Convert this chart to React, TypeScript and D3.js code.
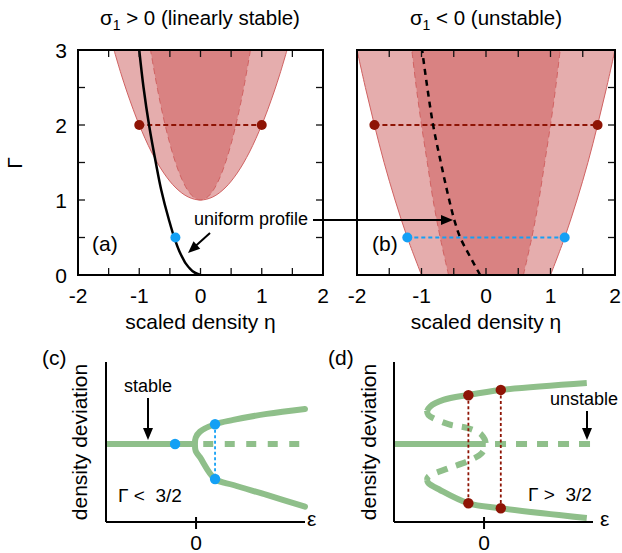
import React from 'react';
import * as d3 from 'd3';

// ---------- data ----------
const etaTickLabels = [-2, -1, 0, 1, 2];
const gammaTickLabels = [0, 1, 2, 3];
const etaMinorTicks = [-2, -1.5, -1, -0.5, 0, 0.5, 1, 1.5, 2];
const gammaMinorTicks = [0, 0.5, 1, 1.5, 2, 2.5, 3];

// panel (a): outer (binodal) and inner (spinodal) boundaries, eta -> Gamma
const outerAEta = [-1.42, -1.3, -1.2, -1.1, -1, -0.8, -0.6, -0.4, -0.2, 0, 0.2, 0.4, 0.6, 0.8, 1, 1.1, 1.2, 1.3, 1.42];
const outerAGamma = [3.02, 2.69, 2.44, 2.21, 2, 1.64, 1.36, 1.16, 1.04, 1, 1.04, 1.16, 1.36, 1.64, 2, 2.21, 2.44, 2.69, 3.02];
const innerAEta = [-0.82, -0.7, -0.6, -0.5, -0.4, -0.3, -0.2, -0.1, 0, 0.1, 0.2, 0.3, 0.4, 0.5, 0.6, 0.7, 0.82];
const innerAGamma = [3.02, 2.47, 2.08, 1.75, 1.48, 1.27, 1.12, 1.03, 1, 1.03, 1.12, 1.27, 1.48, 1.75, 2.08, 2.47, 3.02];
// uniform profile (a)
const uniAGamma = [0, 0.03, 0.11, 0.29, 0.48, 0.75, 1.13, 1.5, 2, 2.5, 3];
const uniAEta = [0, -0.09, -0.2, -0.33, -0.42, -0.52, -0.64, -0.73, -0.84, -0.93, -1.0];

// panel (b): half-widths vs Gamma
const gammaB = [0, 0.5, 1, 1.5, 2, 2.5, 3];
const outerB = [1.0, 1.22, 1.41, 1.58, 1.73, 1.87, 2.0];
const innerB = [0.58, 0.71, 0.82, 0.91, 1.0, 1.08, 1.15];
// uniform profile (b)
const uniBGamma = [0, 0.25, 0.5, 0.73, 1, 1.5, 2, 2.5, 3];
const uniBEta = [-0.09, -0.25, -0.4, -0.49, -0.57, -0.7, -0.82, -0.91, -0.99];

// markers
const redGamma = 2;
const redEtaA = [-1, 1];
const redEtaB = [-1.73, 1.73];
const blueGamma = 0.5;
const blueEtaA = [-0.41];
const blueEtaB = [-1.22, 1.22];

// panel (c): bifurcation branch [epsilon, deviation]
const branchC = [
  [1.21, 0.449], [0.786, 0.385], [0.414, 0.308], [0.211, 0.253], [0.044, 0.158], [-0.004, 0.08],
  [-0.012, 0.0], [-0.004, -0.09], [0.044, -0.171], [0.211, -0.449], [0.414, -0.526], [0.786, -0.654], [1.21, -0.804],
];
const flatSolidC = [-1, -0.011];
const flatDashedC = [0.08, 1.16];
const blueDotsC = [[-0.233, 0], [0.211, 0.253], [0.211, -0.449]];

// panel (d): subcritical branches [epsilon, deviation]
const upperSolidD = [[1.141, 0.781], [0.19, 0.692], [-0.174, 0.628], [-0.452, 0.564], [-0.6, 0.478], [-0.633, 0.423]];
const middleDashedD = [
  [-0.633, 0.423], [-0.619, 0.372], [-0.397, 0.253], [-0.174, 0.201], [-0.026, 0.115], [0.019, 0],
  [-0.026, -0.119], [-0.174, -0.218], [-0.397, -0.312], [-0.619, -0.419], [-0.633, -0.462],
];
const lowerSolidD = [[-0.633, -0.462], [-0.619, -0.5], [-0.489, -0.59], [-0.174, -0.76], [0.186, -0.824], [1.141, -0.949]];
const flatSolidD = [-1, 0.019];
const flatDashedD = [0.122, 1.2];
const redDotsD = [[-0.174, 0.624, -0.76], [0.186, 0.692, -0.824]];

// ---------- styles ----------
const FONT = "'Liberation Sans', Arial, Helvetica, sans-serif";
const LIGHT = '#e5adad';
const DARK = '#d98282';
const EDGE = '#d06262';
const REDDOT = '#8e1405';
const BLUE = '#14a0f5';
const GREEN = '#8fbf8a';

function Arrow({ x1, y1, x2, y2, head = 12, hw = 5, sw = 2 }) {
  const ang = Math.atan2(y2 - y1, x2 - x1);
  const bx = x2 - head * Math.cos(ang);
  const by = y2 - head * Math.sin(ang);
  const px = -Math.sin(ang) * hw;
  const py = Math.cos(ang) * hw;
  return (
    <g>
      <line x1={x1} y1={y1} x2={bx + Math.cos(ang)} y2={by + Math.sin(ang)} stroke="#000" strokeWidth={sw} />
      <polygon points={`${x2},${y2} ${bx + px},${by + py} ${bx - px},${by - py}`} fill="#000" />
    </g>
  );
}

function Frame({ x, y, showLeftTicks, showYLabels }) {
  const [x0, x1] = x.range();
  const [y0, y1] = y.range(); // y0 bottom, y1 top
  const tl = 7;
  return (
    <g>
      {etaMinorTicks.map((t) => (
        <g key={'xt' + t}>
          <line x1={x(t)} x2={x(t)} y1={y0} y2={y0 - tl} stroke="#111" strokeWidth={1.3} />
          <line x1={x(t)} x2={x(t)} y1={y1} y2={y1 + tl} stroke="#111" strokeWidth={1.3} />
        </g>
      ))}
      {gammaMinorTicks.map((t) => (
        <g key={'yt' + t}>
          {showLeftTicks && <line x1={x0} x2={x0 + tl} y1={y(t)} y2={y(t)} stroke="#111" strokeWidth={1.3} />}
          <line x1={x1} x2={x1 - tl} y1={y(t)} y2={y(t)} stroke="#111" strokeWidth={1.3} />
        </g>
      ))}
      <rect x={x0} y={y1} width={x1 - x0} height={y0 - y1} fill="none" stroke="#000" strokeWidth={2} />
      {etaTickLabels.map((t) => (
        <text key={'xl' + t} x={x(t)} y={303} textAnchor="middle" fontSize={21} fontFamily={FONT}>
          {t < 0 ? '-' + Math.abs(t) : t}
        </text>
      ))}
      {showYLabels &&
        gammaTickLabels.map((t) => (
          <text key={'yl' + t} x={67} y={y(t) + 7.5} textAnchor="end" fontSize={21} fontFamily={FONT}>
            {t}
          </text>
        ))}
      <text x={(x0 + x1) / 2} y={329} textAnchor="middle" fontSize={21} fontFamily={FONT}>
        scaled density η
      </text>
    </g>
  );
}

export default function App() {
  const yG = d3.scaleLinear().domain([0, 3]).range([275, 50]);
  const xA = d3.scaleLinear().domain([-2, 2]).range([78, 323]);
  const xB = d3.scaleLinear().domain([-2, 2]).range([357, 615]);

  // panel (a) shapes
  const outerAPts = outerAEta.map((e, i) => [e, outerAGamma[i]]);
  const innerAPts = innerAEta.map((e, i) => [e, innerAGamma[i]]);
  const areaA = d3
    .area()
    .x((d) => xA(d[0]))
    .y0(yG(3.3))
    .y1((d) => yG(d[1]))
    .curve(d3.curveCatmullRom);
  const lineA = d3
    .line()
    .x((d) => xA(d[0]))
    .y((d) => yG(d[1]))
    .curve(d3.curveCatmullRom);
  const uniALine = d3
    .line()
    .x((d) => xA(d[0]))
    .y((d) => yG(d[1]))
    .curve(d3.curveMonotoneY)(uniAEta.map((e, i) => [e, uniAGamma[i]]));

  // panel (b) shapes
  const outerBPts = gammaB.map((g, i) => [g, outerB[i]]);
  const innerBPts = gammaB.map((g, i) => [g, innerB[i]]);
  const areaB = d3
    .area()
    .y((d) => yG(d[0]))
    .x0((d) => xB(-d[1]))
    .x1((d) => xB(d[1]))
    .curve(d3.curveCatmullRom);
  const lineBL = d3
    .line()
    .x((d) => xB(-d[1]))
    .y((d) => yG(d[0]))
    .curve(d3.curveCatmullRom);
  const lineBR = d3
    .line()
    .x((d) => xB(d[1]))
    .y((d) => yG(d[0]))
    .curve(d3.curveCatmullRom);
  const uniBLine = d3
    .line()
    .x((d) => xB(d[0]))
    .y((d) => yG(d[1]))
    .curve(d3.curveMonotoneY)(uniBEta.map((e, i) => [e, uniBGamma[i]]));

  // bottom panels
  const yDev = d3.scaleLinear().domain([-1, 1.05]).range([522, 362]);
  const xC = d3.scaleLinear().domain([-1, 1.21]).range([106, 305]);
  const xD = d3.scaleLinear().domain([-1, 1.21]).range([394, 593]);
  const lineC = d3
    .line()
    .x((d) => xC(d[0]))
    .y((d) => yDev(d[1]))
    .curve(d3.curveCatmullRom);
  const lineD = d3
    .line()
    .x((d) => xD(d[0]))
    .y((d) => yDev(d[1]))
    .curve(d3.curveCatmullRom);

  return (
    <svg
      width={622}
      height={553}
      viewBox="0 0 622 553"
      style={{ position: 'absolute', left: 0, top: 0, background: '#fff' }}
      fontFamily={FONT}
    >
      <defs>
        <clipPath id="clipA">
          <rect x={78} y={50} width={245} height={225} />
        </clipPath>
        <clipPath id="clipB">
          <rect x={357} y={50} width={258} height={225} />
        </clipPath>
      </defs>
      <rect x={0} y={0} width={622} height={553} fill="#fff" />

      {/* titles */}
      <text x={200} y={25} textAnchor="middle" fontSize={20.5}>
        σ<tspan fontSize={14} dy={5}>1</tspan>
        <tspan dy={-5}> &gt; 0 (linearly stable)</tspan>
      </text>
      <text x={486} y={25} textAnchor="middle" fontSize={20.5}>
        σ<tspan fontSize={14} dy={5}>1</tspan>
        <tspan dy={-5}> &lt; 0 (unstable)</tspan>
      </text>
      <text transform="translate(22,163) rotate(-90)" textAnchor="middle" fontSize={21}>
        Γ
      </text>

      {/* panel (a) */}
      <g clipPath="url(#clipA)">
        <path d={areaA(outerAPts)} fill={LIGHT} />
        <path d={areaA(innerAPts)} fill={DARK} />
        <path d={lineA(outerAPts)} fill="none" stroke={EDGE} strokeWidth={1} />
        <path d={lineA(innerAPts)} fill="none" stroke={EDGE} strokeWidth={1} strokeDasharray="6,4" />
        <line
          x1={xA(redEtaA[0])}
          x2={xA(redEtaA[1])}
          y1={yG(redGamma)}
          y2={yG(redGamma)}
          stroke={REDDOT}
          strokeWidth={2}
          strokeDasharray="5,3"
        />
        <path d={uniALine} fill="none" stroke="#000" strokeWidth={2.5} />
        {redEtaA.map((e) => (
          <circle key={e} cx={xA(e)} cy={yG(redGamma)} r={5} fill={REDDOT} />
        ))}
        {blueEtaA.map((e) => (
          <circle key={e} cx={xA(e)} cy={yG(blueGamma)} r={5} fill={BLUE} />
        ))}
      </g>
      <Frame x={xA} y={yG} showLeftTicks={true} showYLabels={true} />
      <text x={92} y={251} fontSize={21}>(a)</text>

      {/* panel (b) */}
      <g clipPath="url(#clipB)">
        <path d={areaB(outerBPts)} fill={LIGHT} />
        <path d={areaB(innerBPts)} fill={DARK} />
        <path d={lineBL(outerBPts)} fill="none" stroke={EDGE} strokeWidth={1} />
        <path d={lineBR(outerBPts)} fill="none" stroke={EDGE} strokeWidth={1} />
        <path d={lineBL(innerBPts)} fill="none" stroke={EDGE} strokeWidth={1} strokeDasharray="6,4" />
        <path d={lineBR(innerBPts)} fill="none" stroke={EDGE} strokeWidth={1} strokeDasharray="6,4" />
        <line
          x1={xB(redEtaB[0])}
          x2={xB(redEtaB[1])}
          y1={yG(redGamma)}
          y2={yG(redGamma)}
          stroke={REDDOT}
          strokeWidth={2}
          strokeDasharray="5,3"
        />
        <line
          x1={xB(blueEtaB[0])}
          x2={xB(blueEtaB[1])}
          y1={yG(blueGamma)}
          y2={yG(blueGamma)}
          stroke={BLUE}
          strokeWidth={2}
          strokeDasharray="4,3"
        />
        <path d={uniBLine} fill="none" stroke="#000" strokeWidth={2.5} strokeDasharray="6,5" />
        {redEtaB.map((e) => (
          <circle key={e} cx={xB(e)} cy={yG(redGamma)} r={5} fill={REDDOT} />
        ))}
        {blueEtaB.map((e) => (
          <circle key={e} cx={xB(e)} cy={yG(blueGamma)} r={5} fill={BLUE} />
        ))}
      </g>
      <Frame x={xB} y={yG} showLeftTicks={false} showYLabels={false} />
      <text x={372} y={251} fontSize={21}>(b)</text>

      {/* uniform profile annotation */}
      <text x={194} y={225} fontSize={18}>uniform profile</text>
      <Arrow x1={210} y1={233} x2={188} y2={253} head={12} hw={5} />
      <Arrow x1={313} y1={220} x2={453} y2={220} head={12} hw={5} />

      {/* panel (c) */}
      <text x={42} y={365} fontSize={21}>(c)</text>
      <text transform="translate(87,442) rotate(-90)" textAnchor="middle" fontSize={21}>
        density deviation
      </text>
      <line x1={xC(flatSolidC[0])} x2={xC(flatSolidC[1])} y1={yDev(0)} y2={yDev(0)} stroke={GREEN} strokeWidth={6} />
      <line
        x1={xC(flatDashedC[0])}
        x2={xC(flatDashedC[1])}
        y1={yDev(0)}
        y2={yDev(0)}
        stroke={GREEN}
        strokeWidth={6}
        strokeDasharray="10,11.5"
      />
      <path d={lineC(branchC)} fill="none" stroke={GREEN} strokeWidth={6} strokeLinecap="round" />
      <line
        x1={xC(blueDotsC[1][0])}
        x2={xC(blueDotsC[2][0])}
        y1={yDev(blueDotsC[1][1])}
        y2={yDev(blueDotsC[2][1])}
        stroke={BLUE}
        strokeWidth={1.8}
        strokeDasharray="3,2.5"
      />
      {blueDotsC.map((d, i) => (
        <circle key={i} cx={xC(d[0])} cy={yDev(d[1])} r={5.2} fill={BLUE} />
      ))}
      <line x1={106} x2={106} y1={362} y2={522} stroke="#000" strokeWidth={2} />
      <line x1={106} x2={305} y1={522} y2={522} stroke="#000" strokeWidth={2} />
      <line x1={xC(0)} x2={xC(0)} y1={517} y2={529} stroke="#000" strokeWidth={2} />
      <text x={xC(0)} y={550} textAnchor="middle" fontSize={21}>0</text>
      <text x={307} y={526} fontSize={21}>ε</text>
      <text x={148} y={392} textAnchor="middle" fontSize={18}>stable</text>
      <Arrow x1={148} y1={398} x2={148} y2={440} head={12} hw={5} />
      <text x={118} y={502} fontSize={19} style={{ whiteSpace: 'pre' }}>
        {'Γ <  3/2'}
      </text>

      {/* panel (d) */}
      <text x={328} y={365} fontSize={21}>(d)</text>
      <text transform="translate(376,442) rotate(-90)" textAnchor="middle" fontSize={21}>
        density deviation
      </text>
      <line x1={xD(flatSolidD[0])} x2={xD(flatSolidD[1])} y1={yDev(0)} y2={yDev(0)} stroke={GREEN} strokeWidth={6} />
      <line
        x1={xD(flatDashedD[0])}
        x2={xD(flatDashedD[1])}
        y1={yDev(0)}
        y2={yDev(0)}
        stroke={GREEN}
        strokeWidth={6}
        strokeDasharray="11,10"
      />
      <path d={lineD(upperSolidD)} fill="none" stroke={GREEN} strokeWidth={6} />
      <path d={lineD(middleDashedD)} fill="none" stroke={GREEN} strokeWidth={6} strokeDasharray="11,9" />
      <path d={lineD(lowerSolidD)} fill="none" stroke={GREEN} strokeWidth={6} />
      {redDotsD.map((d, i) => (
        <g key={i}>
          <line
            x1={xD(d[0])}
            x2={xD(d[0])}
            y1={yDev(d[1])}
            y2={yDev(d[2])}
            stroke={REDDOT}
            strokeWidth={1.8}
            strokeDasharray="3,2.5"
          />
          <circle cx={xD(d[0])} cy={yDev(d[1])} r={5.2} fill={REDDOT} />
          <circle cx={xD(d[0])} cy={yDev(d[2])} r={5.2} fill={REDDOT} />
        </g>
      ))}
      <line x1={394} x2={394} y1={362} y2={522} stroke="#000" strokeWidth={2} />
      <line x1={394} x2={593} y1={522} y2={522} stroke="#000" strokeWidth={2} />
      <line x1={xD(0)} x2={xD(0)} y1={517} y2={529} stroke="#000" strokeWidth={2} />
      <text x={xD(0)} y={550} textAnchor="middle" fontSize={21}>0</text>
      <text x={600} y={526} fontSize={21}>ε</text>
      <text x={550} y={405} fontSize={18}>unstable</text>
      <Arrow x1={587} y1={411} x2={587} y2={440} head={12} hw={5} />
      <text x={528} y={501} fontSize={19} style={{ whiteSpace: 'pre' }}>
        {'Γ >  3/2'}
      </text>
    </svg>
  );
}
